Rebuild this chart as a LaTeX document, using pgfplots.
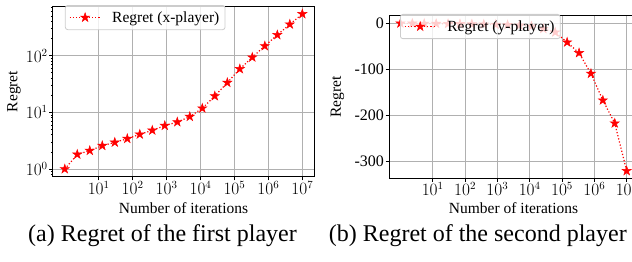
\documentclass[border=0pt]{standalone}
\usepackage{fontspec}
\setmainfont{Liberation Serif}
\usepackage{pgfplots}
\pgfplotsset{compat=1.18}

\definecolor{gridgray}{HTML}{B0B0B0}
\definecolor{legedge}{HTML}{CCCCCC}

\pgfdeclareplotmark{fstar}{%
  \pgfpathmoveto{\pgfpointpolar{90}{\pgfplotmarksize}}%
  \pgfpathlineto{\pgfpointpolar{126}{0.382\pgfplotmarksize}}%
  \pgfpathlineto{\pgfpointpolar{162}{\pgfplotmarksize}}%
  \pgfpathlineto{\pgfpointpolar{198}{0.382\pgfplotmarksize}}%
  \pgfpathlineto{\pgfpointpolar{234}{\pgfplotmarksize}}%
  \pgfpathlineto{\pgfpointpolar{270}{0.382\pgfplotmarksize}}%
  \pgfpathlineto{\pgfpointpolar{306}{\pgfplotmarksize}}%
  \pgfpathlineto{\pgfpointpolar{342}{0.382\pgfplotmarksize}}%
  \pgfpathlineto{\pgfpointpolar{18}{\pgfplotmarksize}}%
  \pgfpathlineto{\pgfpointpolar{54}{0.382\pgfplotmarksize}}%
  \pgfpathclose
  \pgfusepathqfillstroke
}

\pgfplotstableread{
x y
1 1.0
2.336 1.81
5.456 2.11
12.74 2.58
29.76 2.95
69.52 3.43
162.4 4.09
379.3 4.81
885.9 5.82
2069 6.75
4833 8.39
11288 11.8
26367 19.4
61585 33.4
143845 58.2
335982 93.4
784760 148
1832981 232
4281332 357
10000000 543
}\xdata

\pgfplotstableread{
x y
1 0
2.336 -0.3
5.456 -0.6
12.74 -0.9
29.76 -1.2
69.52 -1.5
162.4 -1.9
379.3 -2.3
885.9 -2.8
2069 -3.5
4833 -4.5
11288 -6.5
26367 -12.0
61585 -19.6
143845 -41.3
335982 -64.5
784760 -109.4
1832981 -167.4
4281332 -217.4
10000000 -321
}\ydata

\pgfplotsset{
  myaxis/.style={
    scale only axis,
    xmin=0.4467, xmax=2.2387e7,
    xtick={10,100,1000,10000,100000,1000000,10000000},
    xminorticks=false,
    tick align=outside,
    tick pos=left,
    major tick length=3.5pt,
    minor tick length=2pt,
    every tick/.style={black, line width=0.8pt},
    grid=major,
    major grid style={draw=gridgray, line width=0.8pt},
    axis line style={line width=0.9pt},
    tick label style={font=\fontsize{16}{16}\selectfont},
    xticklabel style={inner sep=0.5pt},
    yticklabel style={inner sep=1.5pt},
    label style={font=\fontsize{15.5}{15.5}\selectfont},
    legend cell align=left,
    legend style={anchor=north west, draw=legedge, line width=0.8pt,
      rounded corners=2.5pt, fill=white, fill opacity=0.8, text opacity=1,
      font=\fontsize{15.5}{15.5}\selectfont, inner xsep=3.7pt, inner ysep=4pt,
      nodes={inner sep=2pt}},
  },
  myplot/.style={red, line width=1.2pt, dash pattern=on 1.2pt off 2pt,
    mark=fstar, mark size=4.8pt, mark options={solid, fill=red, line width=0.5pt}},
  legend image code/.code={%
    \draw[mark repeat=2, mark phase=2, opacity=1, #1] plot coordinates {(0pt,0pt) (15.5pt,0pt) (31pt,0pt)};
    \path (40pt,0pt);},
}

\begin{document}
\begin{tikzpicture}
\begin{axis}[xmode=log, ymode=log, myaxis,
  at={(52.9pt,85.2pt)}, anchor=south west,
  width=261.3pt, height=170.6pt,
  ymin=0.7295, ymax=744.7,
  xlabel={Number of iterations}, ylabel={Regret},
  xlabel style={at={(axis description cs:0.5,-0.215)}, anchor=base},
  ylabel style={at={(axis description cs:-0.149,0.5)}, anchor=center},
  legend style={at={(0.046,1.007)}},
]
\addplot[myplot] table[x=x,y=y] {\xdata};
\addlegendentry{Regret (x-player)}
\end{axis}

\begin{axis}[xmode=log, myaxis,
  at={(389.1pt,83.7pt)}, anchor=south west,
  width=248.9pt, height=162.4pt,
  ymin=-337.05, ymax=16.05,
  ytick={-300,-200,-100,0},
  yticklabels={-300,-200,-100,0},
  xlabel={Number of iterations}, ylabel={Regret},
  xlabel style={at={(axis description cs:0.5,-0.2167)}, anchor=base},
  ylabel style={at={(axis description cs:-0.2073,0.5)}, anchor=center},
  legend style={at={(0.0438,1.0117)}},
]
\addplot[myplot] table[x=x,y=y] {\ydata};
\addlegendentry{Regret (y-player)}
\end{axis}

\node[anchor=base, font=\fontsize{24}{24}\selectfont] at (162.5pt,20.3pt) {(a) Regret of the first player};
\node[anchor=base, font=\fontsize{24}{24}\selectfont] at (477.8pt,20.3pt) {(b) Regret of the second player};

\pgfresetboundingbox
\path (0pt,0pt) rectangle (632pt,262pt);
\end{tikzpicture}
\end{document}
